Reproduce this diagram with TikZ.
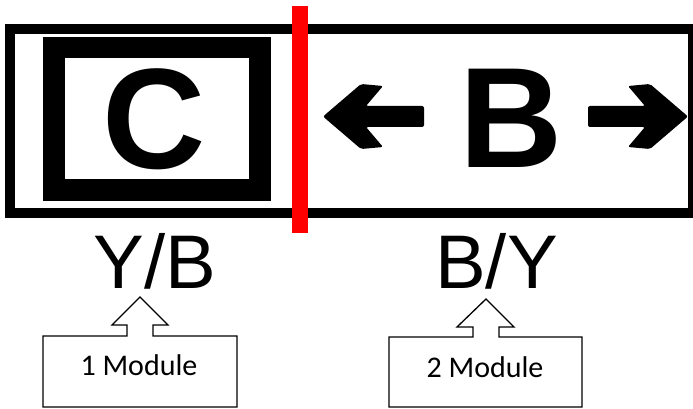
\documentclass[tikz,border=0pt]{standalone}
\usepackage{fontspec}
\setmainfont{Liberation Sans}
\newfontfamily\calib{Carlito}
\begin{document}
\begin{tikzpicture}[x=1pt,y=-1pt,
  frame/.style={draw=black,line width=10pt},
  cframe/.style={draw=black,line width=21.5pt},
  sep/.style={draw=red,line width=16pt},
  bigletter/.style={font=\fontsize{143}{143}\selectfont\bfseries,inner sep=0pt,anchor=base},
  label/.style={font=\fontsize{76}{76}\selectfont,inner sep=0pt,anchor=base},
  modtext/.style={font=\calib\fontsize{30}{30}\selectfont,inner sep=0pt,anchor=base},
  callout/.style={draw=black,line width=1.3pt,fill=white,line join=miter},
  arrowshape/.style={fill=black,rounded corners=2pt}]
\useasboundingbox (0,0) rectangle (693,409);
\clip (0,0) rectangle (693,409);
% outer frame
\draw[frame] (10,29) rectangle (693,213);
% C frame
\draw[cframe] (54,47.5) rectangle (260,190);
\node[bigletter] (c) at (154,168) {C};
\node[bigletter] (b) at (511.5,167) {B};
% arrows
\path[arrowshape] (323,116.5) -- (361,84) -- (383,86) -- (366,106) -- (424,106) -- (424,127) -- (366,127) -- (383,147) -- (361,149) -- cycle;
\path[arrowshape] (688,116.5) -- (650,84) -- (628,86) -- (645,106) -- (588,106) -- (588,127) -- (645,127) -- (628,147) -- (650,149) -- cycle;
% red separator
\draw[sep] (300,6) -- (300,233);
% labels
\node[label] (yb) at (155,288) {Y/B};
\node[label] (by) at (496.5,288) {B/Y};
% callouts
\draw[callout] (43,336) -- (127,336) -- (127,325) -- (112,325) -- (140,297) -- (168,325) -- (153,325) -- (153,336) -- (237,336) -- (237,407) -- (43,407) -- cycle;
\node[modtext] (m1) at (139,375) {1 Module};
\draw[callout] (389,337) -- (473,337) -- (473,327) -- (457,327) -- (486,299) -- (514,327) -- (499,327) -- (499,337) -- (582,337) -- (582,407) -- (389,407) -- cycle;
\node[modtext] (m2) at (485,377) {2 Module};
\end{tikzpicture}
\end{document}
